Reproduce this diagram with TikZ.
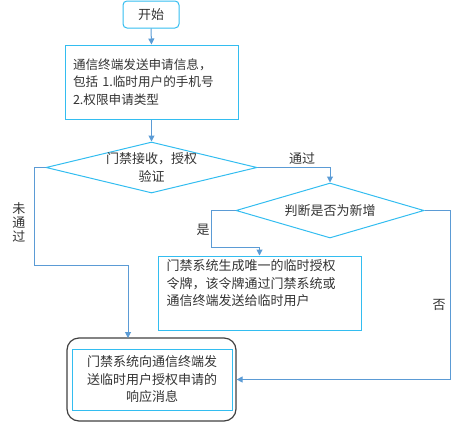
\documentclass[tikz,border=0pt]{standalone}
\usepackage{fontspec}
\setmainfont{Noto Sans CJK SC}
\usetikzlibrary{arrows.meta,shapes.geometric}
\definecolor{boxc}{HTML}{33BDF0}
\definecolor{arrc}{HTML}{5B9BD5}
\definecolor{txt}{HTML}{333333}
\definecolor{outc}{HTML}{404040}
\begin{document}
\begin{tikzpicture}[x=1pt,y=-1pt,
  every node/.style={text=txt},
  txtf/.style={font=\fontsize{13}{17.5}\selectfont},
  boxn/.style={draw=boxc, line width=1pt, inner sep=0pt, txtf},
  dia/.style={draw=boxc, line width=1pt, diamond, inner sep=0pt},
  arr/.style={draw=arrc, line width=1pt, -{Triangle[length=6pt,width=6pt]}},
  lbl/.style={txtf, inner sep=0pt}]
\useasboundingbox (0,0) rectangle (460,423);
% start
\node[boxn, rounded corners=4pt, minimum width=56pt, minimum height=27pt] (start) at (151,14.5) {开始};
% box1
\node[boxn, minimum width=173pt, minimum height=74pt, text width=157pt, align=left, font=\fontsize{12.6}{17.5}\selectfont] (box1) at (151.5,82)
  {通信终端发送申请信息，\\包括 1.临时用户的手机号\\2.权限申请类型};
% decision 1
\node[dia, minimum width=211pt, minimum height=51pt] (dec1) at (151.5,167.5) {};
\node[lbl, align=center] (dec1t) at (dec1.center) {门禁接收，授权\\验证};
% decision 2
\node[dia, minimum width=188pt, minimum height=55pt] (dec2) at (330,210.5) {};
\node[lbl] (dec2t) at (dec2.center) {判断是否为新增};
% box2
\node[boxn, minimum width=203pt, minimum height=74pt] (box2) at (259.5,293) {};
\node[lbl, anchor=north west, align=left] (box2t) at (166.5,259.5)
  {门禁系统生成唯一的临时授权\\令牌，该令牌通过门禁系统或\\通信终端发送给临时用户};
% final
\node[draw=outc, line width=1.2pt, rounded corners=12pt, minimum width=169pt, minimum height=83pt, inner sep=0pt] (outer) at (151.5,379.5) {};
\node[boxn, minimum width=160pt, minimum height=61pt, align=center] (inner) at (152,379.5)
  {门禁系统向通信终端发\\送临时用户授权申请的\\响应消息};
% coordinates
\coordinate (c1) at (34,265);
\coordinate (c2) at (128,338);
\coordinate (c3) at (211,247);
\coordinate (c5) at (450,379.5);
% connectors
\draw[arr] (start.south) -- (box1.north);
\draw[arr] (box1.south) -- (dec1.north);
\draw[arr] (dec1.east) -| (dec2.north);
\draw[arr] (dec1.west) -| (c1) -| (c2);
\draw[arr] (dec2.west) -| (c3) -| (box2.north);
\draw[arr] (dec2.east) -| (c5) -- (outer.east);
% labels
\node[lbl] (l1) at (302,159) {通过};
\node[lbl] (l2) at (203,230) {是};
\node[lbl] (l3) at (439,305) {否};
\node[lbl, align=center, font=\fontsize{13}{14}\selectfont] (l4) at (19,222) {未\\通\\过};
\end{tikzpicture}
\end{document}
